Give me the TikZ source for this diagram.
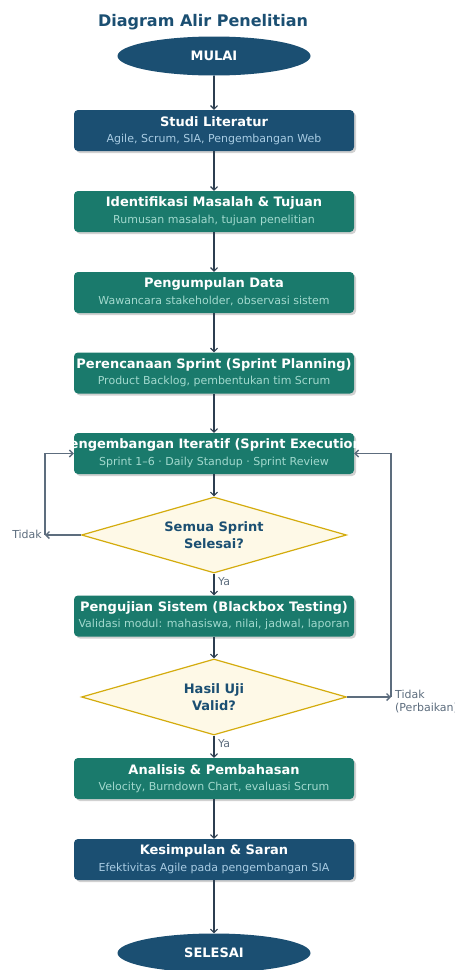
\documentclass[tikz,border=0pt]{standalone}
\usepackage{fontspec}
\setmainfont{DejaVu Sans}
\usetikzlibrary{shapes.geometric,arrows.meta,shadows}
\definecolor{cblue}{HTML}{1B4F72}
\definecolor{cteal}{HTML}{1A7A6C}
\definecolor{subblue}{HTML}{A9CCE3}
\definecolor{subteal}{HTML}{A2D9CE}
\definecolor{arrowc}{HTML}{2C3E50}
\definecolor{loopc}{HTML}{5D6D7E}
\definecolor{dfill}{HTML}{FEF9E7}
\definecolor{dline}{HTML}{D4AC0D}
\tikzset{
  stepbox/.style={rectangle, rounded corners=4pt, minimum width=280pt, minimum height=41pt, inner sep=0pt,
    drop shadow={shadow xshift=2pt, shadow yshift=-2pt, fill=black, opacity=0.18}},
  bluebox/.style={stepbox, fill=cblue},
  tealbox/.style={stepbox, fill=cteal},
  ttl/.style={inner sep=0pt, text=white, font=\fontsize{13}{15}\selectfont\bfseries},
  subb/.style={inner sep=0pt, text=subblue, font=\fontsize{11}{13}\selectfont},
  subt/.style={inner sep=0pt, text=subteal, font=\fontsize{11}{13}\selectfont},
  term/.style={ellipse, fill=cblue, minimum width=193pt, minimum height=39pt, inner sep=0pt,
    text=white, font=\fontsize{13}{15}\selectfont\bfseries},
  decis/.style={diamond, fill=dfill, draw=dline, line width=1.2pt, minimum width=265pt, minimum height=76pt,
    aspect=3.49, inner sep=0pt, align=center, text=cblue, font=\fontsize{13}{16.5}\selectfont\bfseries},
  arr/.style={draw=arrowc, line width=1.1pt, -{Straight Barb[length=3.5pt,width=7pt]}},
  looparr/.style={draw=loopc, line width=1.4pt, -{Straight Barb[length=3.5pt,width=7pt]}},
  lbl/.style={inner sep=0pt, text=loopc, font=\fontsize{11}{13}\selectfont},
}
\begin{document}
\begin{tikzpicture}[x=1pt,y=-1pt]
\useasboundingbox[fill=white] (0,0) rectangle (455,970);
\node[inner sep=0pt, text=cblue, font=\fontsize{16}{19}\selectfont\bfseries] (title) at (203,22) {Diagram Alir Penelitian};
\node[term] (start) at (214,56) {MULAI};

\node[bluebox] (s1) at (214,130.5) {};
\node[ttl] (s1a) at ([yshift=8.5pt]s1.center) {Studi Literatur};
\node[subb] (s1b) at ([yshift=-8.5pt]s1.center) {Agile, Scrum, SIA, Pengembangan Web};

\node[tealbox] (s2) at (214,211.5) {};
\node[ttl] (s2a) at ([yshift=8.5pt]s2.center) {Identifikasi Masalah \& Tujuan};
\node[subt] (s2b) at ([yshift=-8.5pt]s2.center) {Rumusan masalah, tujuan penelitian};

\node[tealbox] (s3) at (214,292.5) {};
\node[ttl] (s3a) at ([yshift=8.5pt]s3.center) {Pengumpulan Data};
\node[subt] (s3b) at ([yshift=-8.5pt]s3.center) {Wawancara stakeholder, observasi sistem};

\node[tealbox] (s4) at (214,373) {};
\node[ttl] (s4a) at ([yshift=8.5pt]s4.center) {Perencanaan Sprint (Sprint Planning)};
\node[subt] (s4b) at ([yshift=-8.5pt]s4.center) {Product Backlog, pembentukan tim Scrum};

\node[tealbox] (s5) at (214,453.5) {};
\node[ttl] (s5a) at ([yshift=8.5pt]s5.center) {Pengembangan Iteratif (Sprint Execution)};
\node[subt] (s5b) at ([yshift=-8.5pt]s5.center) {Sprint 1–6 · Daily Standup · Sprint Review};

\node[decis] (d1) at (214,535) {Semua Sprint\\Selesai?};

\node[tealbox] (s6) at (214,616) {};
\node[ttl] (s6a) at ([yshift=8.5pt]s6.center) {Pengujian Sistem (Blackbox Testing)};
\node[subt] (s6b) at ([yshift=-8.5pt]s6.center) {Validasi modul: mahasiswa, nilai, jadwal, laporan};

\node[decis] (d2) at (214,697) {Hasil Uji\\Valid?};

\node[tealbox] (s7) at (214,778.5) {};
\node[ttl] (s7a) at ([yshift=8.5pt]s7.center) {Analisis \& Pembahasan};
\node[subt] (s7b) at ([yshift=-8.5pt]s7.center) {Velocity, Burndown Chart, evaluasi Scrum};

\node[bluebox] (s8) at (214,859.5) {};
\node[ttl] (s8a) at ([yshift=8.5pt]s8.center) {Kesimpulan \& Saran};
\node[subb] (s8b) at ([yshift=-8.5pt]s8.center) {Efektivitas Agile pada pengembangan SIA};

\node[term] (stop) at (214,953) {SELESAI};

\coordinate (L1) at (45,535);
\coordinate (R1) at (391,697);

\draw[arr] (start) -- (s1);
\draw[arr] (s1) -- (s2);
\draw[arr] (s2) -- (s3);
\draw[arr] (s3) -- (s4);
\draw[arr] (s4) -- (s5);
\draw[arr] (s5) -- (d1);
\draw[arr] (d1) -- (s6);
\draw[arr] (s6) -- (d2);
\draw[arr] (d2) -- (s7);
\draw[arr] (s7) -- (s8);
\draw[arr] (s8) -- (stop);

\draw[looparr] (d1.west) -- (L1);
\draw[looparr] (L1) |- (s5.west);
\draw[looparr] (d2.east) -- (R1);
\draw[looparr] (R1) |- (s5.east);

\node[lbl, anchor=east] (t1) at (42,534.5) {Tidak};
\node[lbl, anchor=west] (y1) at (218,582) {Ya};
\node[lbl, anchor=west] (y2) at (218,744) {Ya};
\node[lbl, anchor=north west, align=left, font=\fontsize{11}{12.5}\selectfont] (t2) at (395,690) {Tidak\\(Perbaikan)};
\end{tikzpicture}
\end{document}
